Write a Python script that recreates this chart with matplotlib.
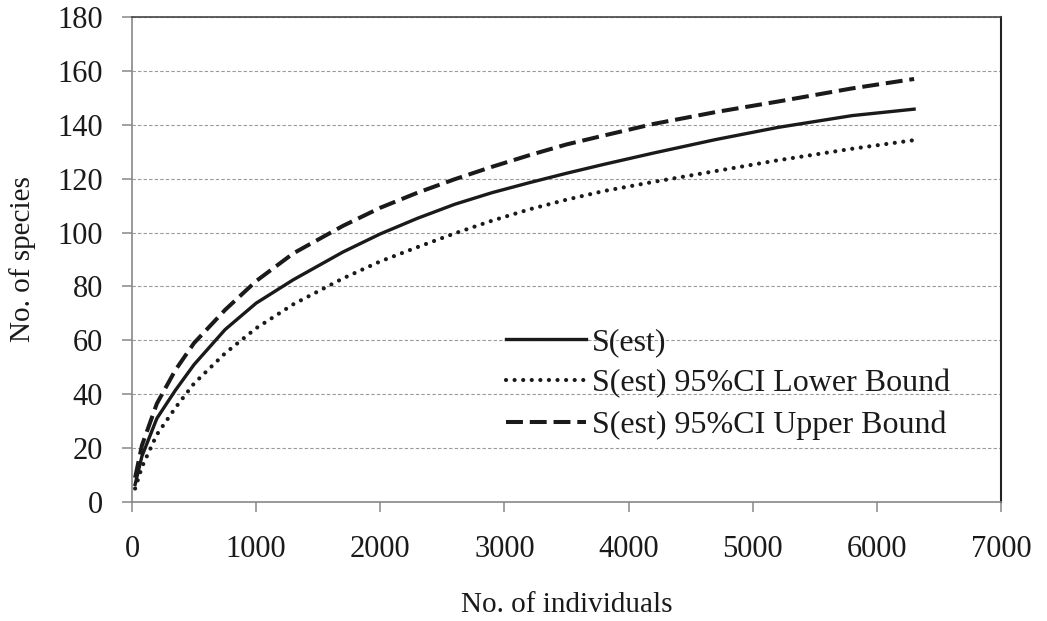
import numpy as np
from matplotlib import pyplot as plt

plt.rcParams['font.family'] = ['Liberation Serif', 'DejaVu Serif']

# values
individuals = [25, 80, 200, 350, 500, 750, 1000, 1300, 1700, 2000, 2300, 2600,
               2900, 3200, 3500, 3800, 4200, 4700, 5200, 5800, 6300]
s_est = [6.5, 17, 31, 41.5, 51, 64, 73.8, 82.5, 92.8, 99.5, 105.3, 110.5,
         114.8, 118.5, 122, 125.3, 129.5, 134.5, 139, 143.4, 145.8]
s_lower = [5, 13, 25, 35, 44, 55.2, 64.5, 73.4, 83, 89.3, 94.6, 99.7,
           104.4, 108.6, 112.2, 115.4, 118.8, 122.8, 126.8, 131.1, 134.3]
s_upper = [9, 21, 36.5, 49, 59, 71.3, 82, 92.3, 102.5, 109.2, 114.8, 119.8,
           124.4, 128.7, 132.7, 136, 140.3, 144.7, 148.6, 153.5, 157]

labels = ['S(est)', 'S(est) 95%CI Lower Bound', 'S(est) 95%CI Upper Bound']

fig = plt.figure(figsize=(10.47, 6.21), dpi=100)
ax = fig.add_axes([132/1047, 1 - 502/621, (1001 - 132)/1047, (502 - 17)/621])

ax.plot(individuals, s_est, color='#1a1a1a', lw=2.4, label=labels[0], zorder=3)
ax.plot(individuals, s_lower, color='#1a1a1a', lw=3.0, linestyle=(0, (0.01, 2.05)),
        dash_capstyle='round', label=labels[1], zorder=3)
ax.plot(individuals, s_upper, color='#1a1a1a', lw=2.9, linestyle=(0, (4.2, 1.7)),
        dash_capstyle='butt', label=labels[2], zorder=3)

ax.set_xlim(0, 7000)
ax.set_ylim(0, 180)
ax.set_xticks(np.arange(0, 7001, 1000))
ax.set_yticks(np.arange(0, 181, 20))

ax.yaxis.grid(True, color='#999999', linestyle=(0, (3, 2)), linewidth=0.8)
ax.set_axisbelow(True)

for side in ['left', 'bottom']:
    ax.spines[side].set_color('#888888')
    ax.spines[side].set_linewidth(1.2)
ax.spines['top'].set_color('#444444')
ax.spines['right'].set_color('#222222')
ax.spines['top'].set_linewidth(1.2)
ax.spines['right'].set_linewidth(1.5)

ax.tick_params(axis='both', direction='out', length=7, width=1.1, color='#888888',
               labelsize=22, labelcolor='#1a1a1a')
ax.tick_params(axis='x', pad=17)
ax.tick_params(axis='y', pad=14)

ax.set_xlabel('No. of individuals', fontsize=21, color='#1a1a1a', labelpad=20)
ax.set_ylabel('No. of species', fontsize=21, color='#1a1a1a', labelpad=15)

leg = ax.legend(loc='upper left', bbox_to_anchor=(506/1047, 1 - 328/621),
                bbox_transform=fig.transFigure, frameon=False, fontsize=23,
                borderpad=0, borderaxespad=0, handlelength=2.5, handletextpad=0.18,
                labelspacing=0.37)
for t in leg.get_texts():
    t.set_color('#1a1a1a')

fig.savefig('out.png', dpi=100)
